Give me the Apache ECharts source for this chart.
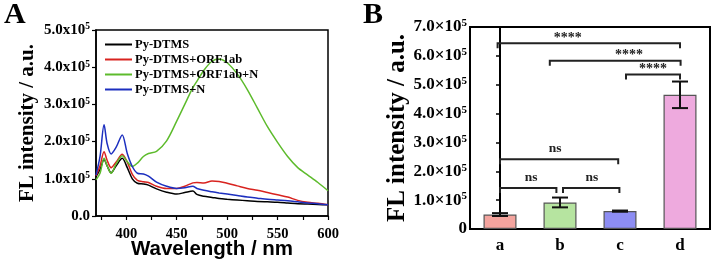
<!DOCTYPE html>
<html>
<head>
<meta charset="utf-8">
<script src="https://cdn.jsdelivr.net/npm/echarts@6/dist/echarts.min.js"></script>
<style>
  html, body { margin: 0; padding: 0; background: #fff; }
  #chart { width: 712px; height: 261px; }
</style>
</head>
<body>
<div id="chart"></div>
<script>
  // ---- panel A: emission spectra (intensity in units of 1e5 a.u.) ----
  const wavelength = [370, 374, 378, 381, 385, 390, 396, 401, 406, 411, 417, 422, 430, 440, 450, 458,
    466, 470, 477, 485, 492, 500, 510, 520, 530, 540, 550, 560, 570, 580, 590, 600];
  const pyDtms = [1.06, 1.25, 1.52, 1.35, 1.16, 1.35, 1.55, 1.30, 1.00, 0.88, 0.86, 0.83, 0.73, 0.64, 0.59, 0.63,
    0.67, 0.58, 0.53, 0.50, 0.47, 0.45, 0.43, 0.41, 0.39, 0.38, 0.37, 0.35, 0.33, 0.32, 0.31, 0.30];
  const pyDtmsOrf = [1.08, 1.35, 1.73, 1.50, 1.30, 1.45, 1.66, 1.45, 1.12, 0.96, 0.92, 0.90, 0.80, 0.74, 0.74, 0.80,
    0.89, 0.90, 0.89, 0.94, 0.93, 0.88, 0.81, 0.74, 0.69, 0.63, 0.57, 0.51, 0.42, 0.37, 0.34, 0.30];
  const pyDtmsOrfN = [0.97, 1.15, 1.55, 1.35, 1.15, 1.40, 1.62, 1.46, 1.33, 1.42, 1.60, 1.68, 1.74, 2.02, 2.55, 3.00,
    3.45, 3.62, 3.92, 4.16, 4.22, 4.12, 3.82, 3.40, 2.90, 2.40, 1.98, 1.60, 1.30, 1.10, 0.90, 0.68];
  const pyDtmsN = [1.10, 1.60, 2.45, 1.95, 1.67, 1.85, 2.18, 1.68, 1.33, 1.15, 1.13, 1.07, 0.91, 0.80, 0.74, 0.76,
    0.80, 0.74, 0.69, 0.65, 0.62, 0.59, 0.55, 0.51, 0.48, 0.45, 0.43, 0.41, 0.38, 0.35, 0.33, 0.30];
  const seriesNames = ['Py-DTMS', 'Py-DTMS+ORF1ab', 'Py-DTMS+ORF1ab+N', 'Py-DTMS+N'];
  const seriesColors = ['#000000', '#d8231f', '#5dbb2c', '#1c2fbf'];
  const xLabelTicks = [400, 450, 500, 550, 600];
  const xTickMarks = [375, 400, 425, 450, 475, 500, 525, 550, 575, 600];

  // ---- panel B: bar chart (units of 1e5 a.u.) ----
  const groups = ['a', 'b', 'c', 'd'];
  const groupMean = [0.50, 0.92, 0.62, 4.65];
  const groupErr = [0.05, 0.17, 0.02, 0.46];
  const groupColors = ['#f4a49e', '#b6e4a0', '#8d8df3', '#eeaade'];
  // significance brackets, x in category index units
  const bracketFrom = [-0.04, 0.83, 2.10, 0.00, 0.00, 1.05];
  const bracketTo = [3.00, 3.01, 3.00, 1.97, 0.94, 1.99];
  const bracketY = [6.44, 5.83, 5.35, 2.42, 1.42, 1.42];
  const bracketText = ['****', '****', '****', 'ns', 'ns', 'ns'];
  const bracketTextX = [1.13, 2.15, 2.55, 0.92, 0.52, 1.53];

  const SERIF = '"Liberation Serif", "Times New Roman", serif';
  const SANS = '"Liberation Sans", Arial, sans-serif';

  const chart = echarts.init(document.getElementById('chart'));

  const lineData = [pyDtms, pyDtmsOrf, pyDtmsOrfN, pyDtmsN];

  const sciLabel = (sep) => function (v) {
    if (v === 0) return sep === 'x' ? '{a|0.0}' : '{a|0}';
    return '{a|' + v.toFixed(1) + sep + '10}{s|5}';
  };

  const option = {
    animation: false,
    backgroundColor: '#fff',
    graphic: [
      { type: 'text', left: 4, top: 0, style: { text: 'A', font: 'bold 30px ' + SERIF, fill: '#000' } },
      { type: 'text', left: 363, top: 0, style: { text: 'B', font: 'bold 30px ' + SERIF, fill: '#000' } }
    ],
    legend: {
      orient: 'vertical',
      left: 100,
      top: 32,
      icon: 'rect',
      itemWidth: 27,
      itemHeight: 2,
      itemGap: 0,
      data: seriesNames,
      textStyle: { fontFamily: SERIF, fontWeight: 'bold', fontSize: 12.5, color: '#000', lineHeight: 15, padding: [0, 0, 0, -2] }
    },
    grid: [
      { left: 96, right: 384, top: 30, bottom: 45, outerBoundsMode: 'none', show: true, borderColor: '#000', borderWidth: 1.5 },
      { left: 470, right: 2, top: 27, bottom: 32, outerBoundsMode: 'none', show: true, borderColor: '#000', borderWidth: 2 }
    ],
    xAxis: [
      {
        gridIndex: 0, type: 'value', min: 370, max: 600,
        name: 'Wavelength / nm', nameLocation: 'middle', nameGap: 23, nameMoveOverlap: false,
        nameTextStyle: { fontFamily: SANS, fontWeight: 'bold', fontSize: 20.5, color: '#000' },
        axisLine: { lineStyle: { color: '#000', width: 1.5 } },
        axisTick: { customValues: xTickMarks, length: 4, lineStyle: { color: '#000', width: 1.2 } },
        axisLabel: { customValues: xLabelTicks, margin: 11, fontFamily: SERIF, fontWeight: 'bold', fontSize: 14.5, color: '#000' },
        splitLine: { show: false }
      },
      {
        gridIndex: 1, type: 'category', data: groups,
        axisLine: { lineStyle: { color: '#000', width: 2 } },
        axisTick: { alignWithLabel: true, length: 4, lineStyle: { color: '#000', width: 1.5 } },
        axisLabel: { margin: 8, fontFamily: SERIF, fontWeight: 'bold', fontSize: 17, color: '#000' }
      },
      { gridIndex: 1, type: 'value', min: -0.5, max: 3.5, show: false }
    ],
    yAxis: [
      {
        gridIndex: 0, type: 'value', min: 0, max: 5, interval: 1,
        name: 'FL intensity / a.u.', nameLocation: 'middle', nameGap: 58,
        nameTextStyle: { fontFamily: SERIF, fontWeight: 'bold', fontSize: 21, color: '#000' },
        axisLine: { show: true, lineStyle: { color: '#000', width: 1.5 } },
        axisTick: { show: true, length: 4, lineStyle: { color: '#000', width: 1.2 } },
        axisLabel: {
          margin: 6, formatter: sciLabel('x'),
          rich: {
            a: { fontFamily: SERIF, fontWeight: 'bold', fontSize: 15, color: '#000', lineHeight: 16 },
            s: { fontFamily: SERIF, fontWeight: 'bold', fontSize: 9.5, color: '#000', verticalAlign: 'top', lineHeight: 16 }
          }
        },
        splitLine: { show: false }
      },
      {
        gridIndex: 1, type: 'value', min: 0, max: 7, interval: 1,
        name: 'FL intensity / a.u.', nameLocation: 'middle', nameGap: 60,
        nameTextStyle: { fontFamily: SERIF, fontWeight: 'bold', fontSize: 25, color: '#000' },
        axisLine: { show: true, lineStyle: { color: '#000', width: 2 } },
        axisTick: { show: true, length: 4, lineStyle: { color: '#000', width: 1.5 } },
        axisLabel: {
          margin: 3, formatter: sciLabel('×'),
          rich: {
            a: { fontFamily: SERIF, fontWeight: 'bold', fontSize: 17, color: '#000', lineHeight: 18 },
            s: { fontFamily: SERIF, fontWeight: 'bold', fontSize: 11, color: '#000', verticalAlign: 'top', lineHeight: 18 }
          }
        },
        splitLine: { show: false }
      }
    ],
    series: [
      ...lineData.map((vals, k) => ({
        name: seriesNames[k],
        type: 'line',
        xAxisIndex: 0,
        yAxisIndex: 0,
        showSymbol: false,
        smooth: 0.3,
        color: seriesColors[k],
        lineStyle: { width: 1.5, color: seriesColors[k] },
        data: wavelength.map((w, i) => [w, vals[i]])
      })),
      {
        type: 'bar',
        xAxisIndex: 1,
        yAxisIndex: 1,
        barWidth: 33,
        data: groupMean.map((v, i) => ({
          value: v,
          itemStyle: { color: groupColors[i], borderColor: '#555', borderWidth: 1.2 }
        }))
      },
      {
        // error bars
        type: 'custom',
        xAxisIndex: 2,
        yAxisIndex: 1,
        data: groupMean.map((v, i) => [i, v - groupErr[i], v + groupErr[i]]),
        renderItem: function (params, api) {
          const lo = api.coord([api.value(0), api.value(1)]);
          const hi = api.coord([api.value(0), api.value(2)]);
          const style = { stroke: '#111', lineWidth: 2 };
          return {
            type: 'group',
            children: [
              { type: 'line', shape: { x1: lo[0], y1: lo[1], x2: hi[0], y2: hi[1] }, style },
              { type: 'line', shape: { x1: lo[0] - 8, y1: lo[1], x2: lo[0] + 8, y2: lo[1] }, style },
              { type: 'line', shape: { x1: hi[0] - 8, y1: hi[1], x2: hi[0] + 8, y2: hi[1] }, style }
            ]
          };
        },
        z: 5
      },
      {
        // significance brackets
        type: 'custom',
        xAxisIndex: 2,
        yAxisIndex: 1,
        data: bracketY.map((y, i) => [bracketFrom[i], bracketTo[i], y, bracketTextX[i]]),
        renderItem: function (params, api) {
          const p1 = api.coord([api.value(0), api.value(2)]);
          const p2 = api.coord([api.value(1), api.value(2)]);
          const pt = api.coord([api.value(3), api.value(2)]);
          const txt = bracketText[params.dataIndex];
          const star = txt === '****';
          return {
            type: 'group',
            children: [
              {
                type: 'polyline',
                shape: { points: [[p1[0], p1[1] + 5], p1, p2, [p2[0], p2[1] + 5]] },
                style: { stroke: '#222', lineWidth: 2, fill: null }
              },
              {
                type: 'text',
                style: {
                  text: txt, x: pt[0], y: pt[1] - (star ? 5 : 11),
                  align: 'center', verticalAlign: 'middle',
                  font: 'bold ' + (star ? 14 : 13.5) + 'px ' + SERIF, fill: '#222'
                }
              }
            ]
          };
        },
        z: 5
      }
    ]
  };

  chart.setOption(option);
</script>
</body>
</html>
